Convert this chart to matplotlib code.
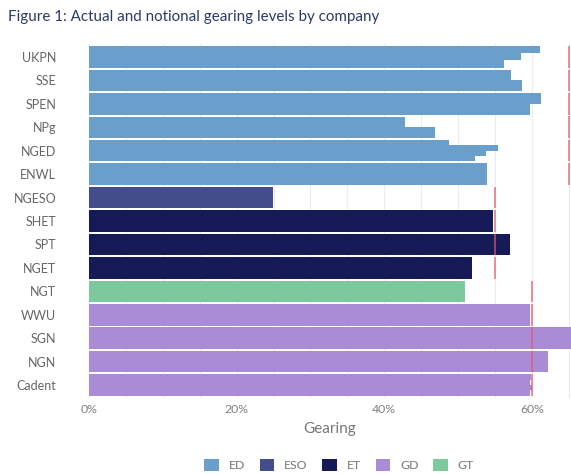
import matplotlib
matplotlib.use("Agg")
import matplotlib.pyplot as plt
from matplotlib.patches import Patch

plt.rcParams['font.family'] = ['Lato', 'DejaVu Sans']

# ---- data ----
companies = ["UKPN", "SSE", "SPEN", "NPg", "NGED", "ENWL", "NGESO", "SHET",
             "SPT", "NGET", "NGT", "WWU", "SGN", "NGN", "Cadent"]
sectors = ["ED", "ED", "ED", "ED", "ED", "ED", "ESO", "ET",
           "ET", "ET", "GT", "GD", "GD", "GD", "GD"]
# actual gearing (%) per licensee within each company
gearing = [
    [61.1, 58.5, 56.2],
    [57.2, 58.7],
    [61.3, 59.7],
    [42.8, 46.9],
    [48.8, 55.4, 53.8, 52.3],
    [53.9],
    [24.9],
    [54.8],
    [57.0],
    [51.9],
    [50.9],
    [59.7],
    [66.5, 66.5],
    [62.2],
    [59.9, 59.7, 60.0, 59.8],
]
notional = {"ED": 65, "ESO": 55, "ET": 55, "GT": 60, "GD": 60}
sector_order = ["ED", "ESO", "ET", "GD", "GT"]
sector_colors = {"ED": "#6A9FCC", "ESO": "#434D8C", "ET": "#161B57",
                 "GD": "#A98BD6", "GT": "#7DC99E"}
xticks = [0, 20, 40, 60]
xtick_labels = ["0%", "20%", "40%", "60%"]

# ---- figure ----
fig = plt.figure(figsize=(5.71, 4.74), dpi=100)
ax = fig.add_axes([89/571, 1 - 398/474, 1 - 89/571, (398 - 44)/474])

row_h = 0.91
for i, (comp, sec, vals) in enumerate(zip(companies, sectors, gearing)):
    n = len(vals)
    sub = row_h / n
    top = i - row_h / 2
    for j, v in enumerate(vals):
        yc = top + sub * (j + 0.5)
        ax.barh(yc, v, height=sub * 1.01, color=sector_colors[sec],
                edgecolor="none", linewidth=0, zorder=2)
    ax.vlines(notional[sec], i - 0.46, i + 0.46, color="#E5566B",
              alpha=0.85, linewidth=1.1, zorder=3)

ax.set_ylim(len(companies) - 0.5 + 0.05, -0.5 - 0.05)
ax.set_xlim(0, 65.3)
ax.set_yticks(range(len(companies)))
ax.set_yticklabels(companies, fontsize=9, color="#666666")
ax.set_xticks(xticks)
ax.set_xticklabels(xtick_labels, fontsize=8.8, color="#808080")
ax.set_xticks(range(0, 66, 5), minor=True)
ax.grid(axis="x", which="both", color="#ECECEC", linewidth=0.8, zorder=0)
ax.set_axisbelow(True)
ax.tick_params(axis="y", length=0, pad=23.5)
ax.tick_params(axis="x", which="both", length=0, pad=4)
for s in ax.spines.values():
    s.set_visible(False)

ax.set_xlabel("Gearing", fontsize=11, color="#777777", labelpad=5)

fig.text(8/571, 1 - 17/474, "Figure 1: Actual and notional gearing levels by company",
         fontsize=10.9, color="#2C3A66", va="center", ha="left")

handles = [Patch(facecolor=sector_colors[s], edgecolor="none") for s in sector_order]
fig.legend(handles, sector_order, loc="center", bbox_to_anchor=(339/571, 1 - 465/474),
           ncol=5, frameon=False, fontsize=8.8, handlelength=1.2, handleheight=1.2,
           columnspacing=1.2, handletextpad=0.8, labelcolor="#777777")

fig.savefig("out.png", dpi=100)
